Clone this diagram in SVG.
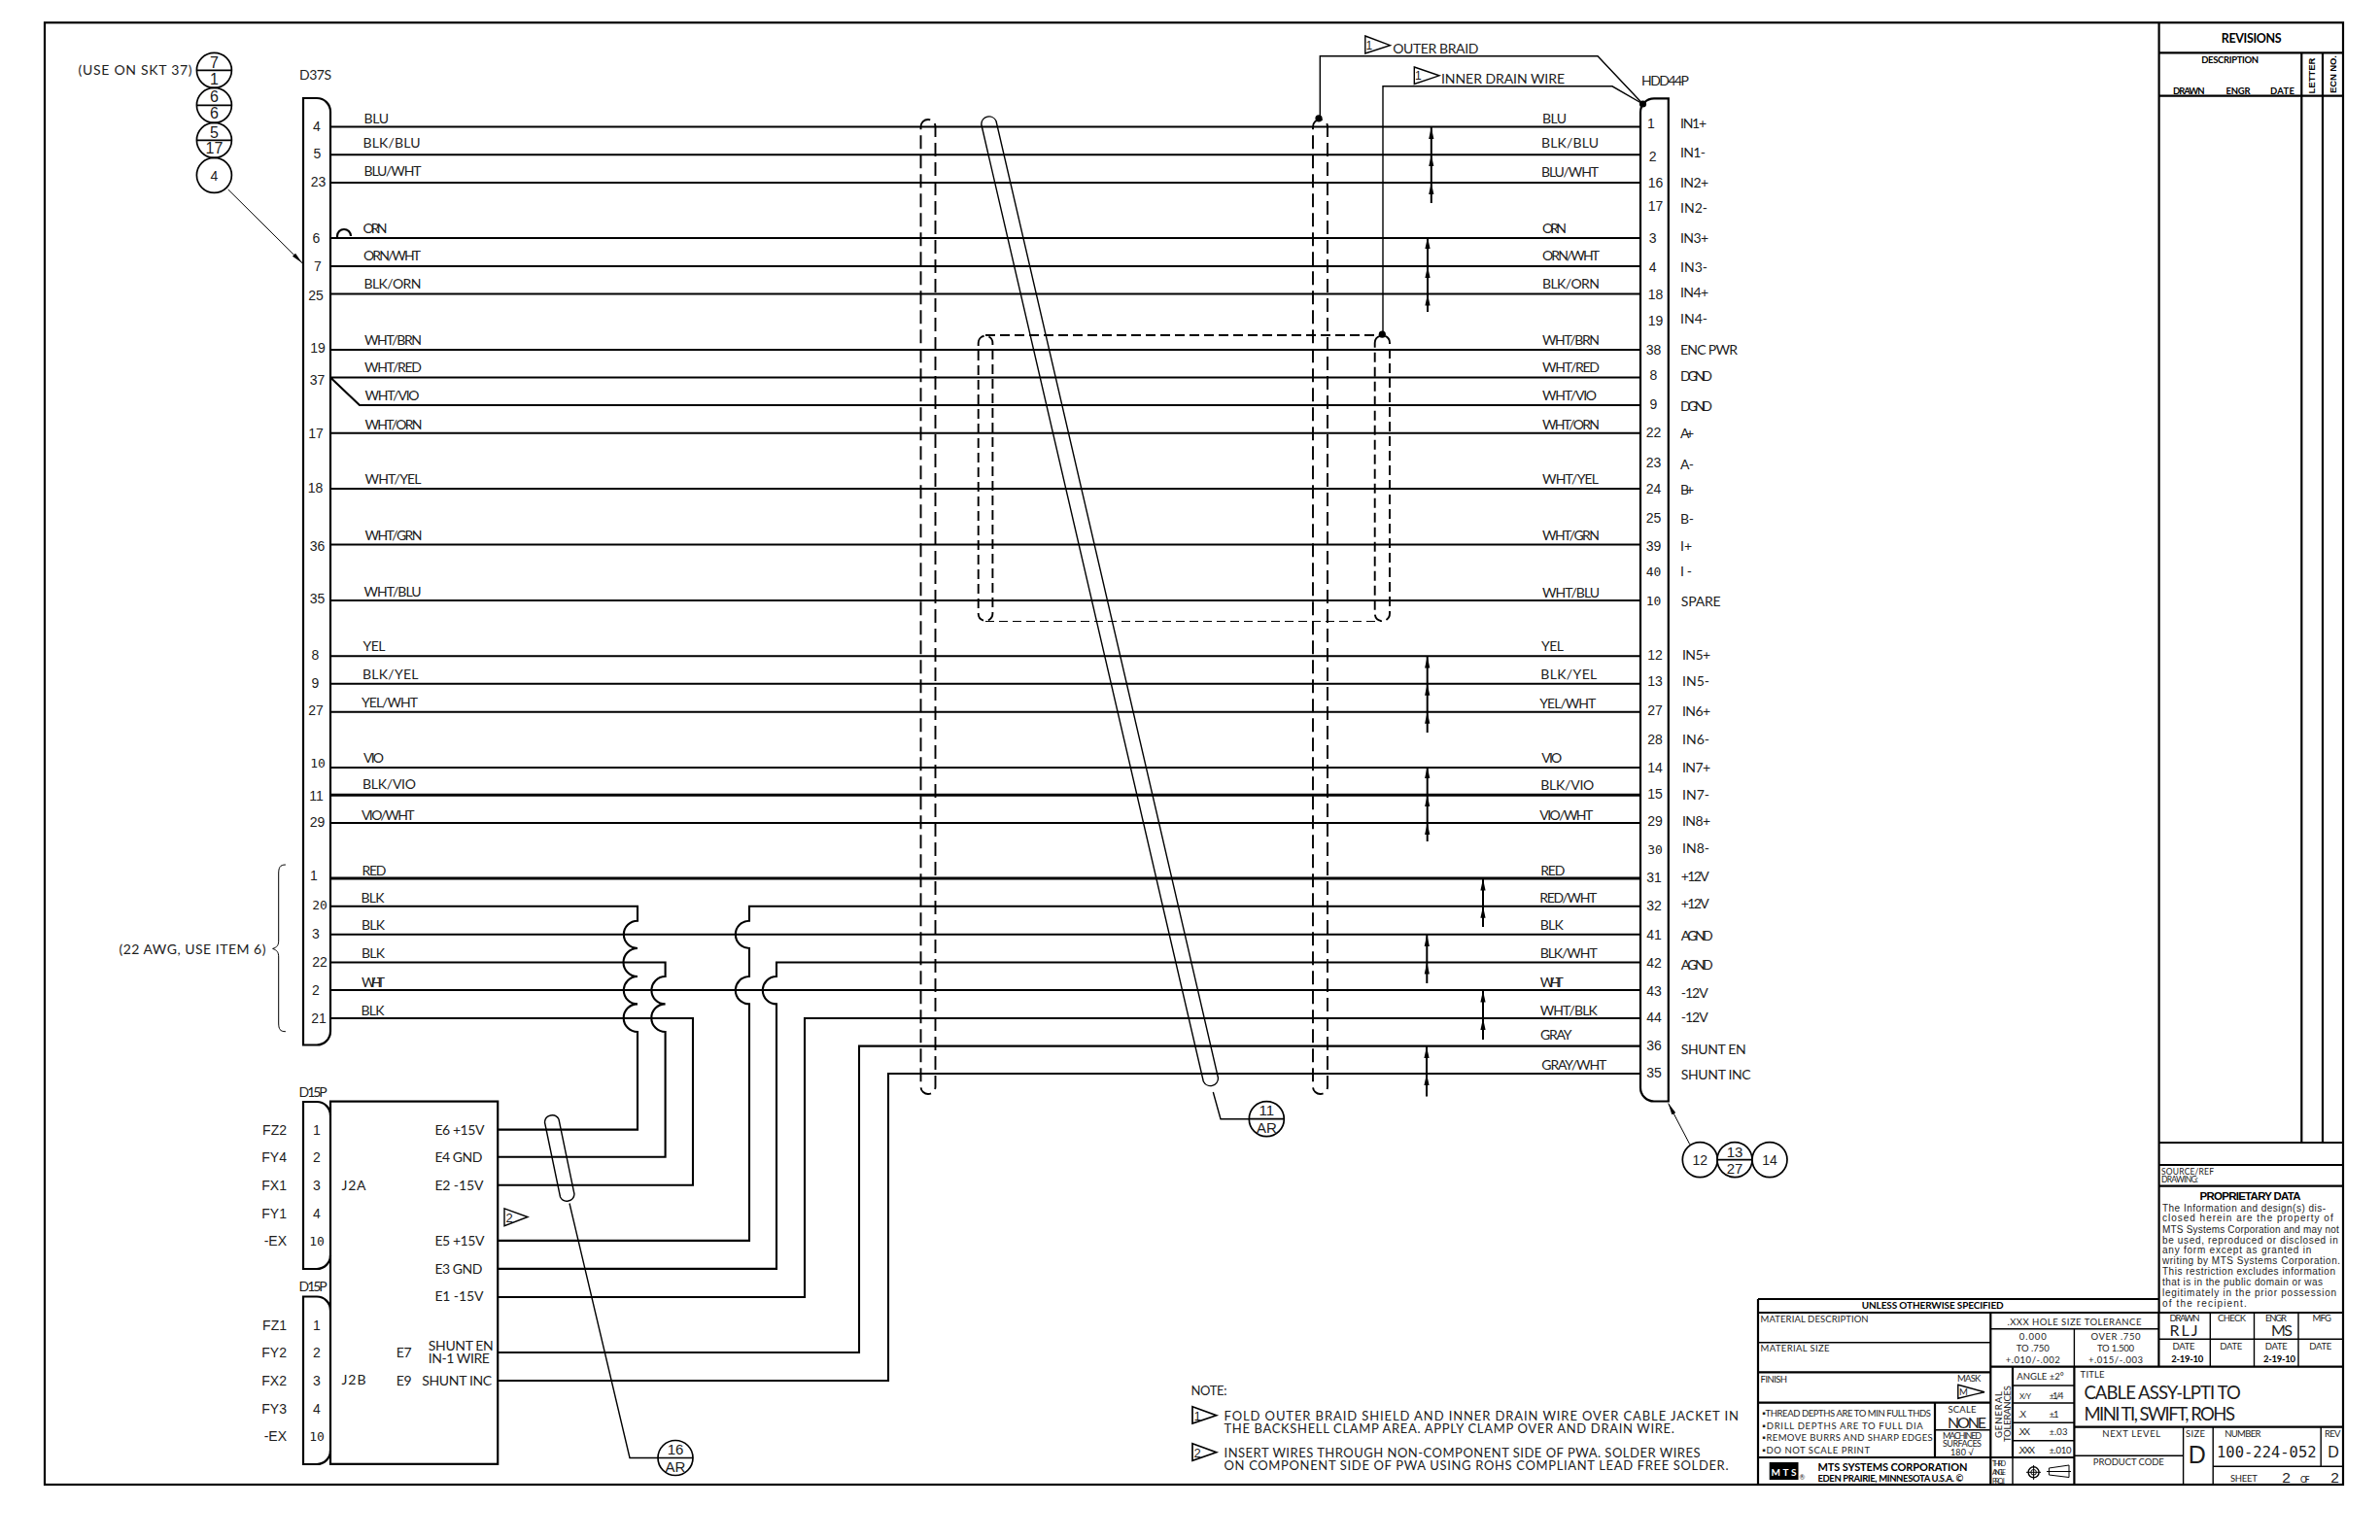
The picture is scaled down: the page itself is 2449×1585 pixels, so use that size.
<svg xmlns="http://www.w3.org/2000/svg" width="2449" height="1585" viewBox="0 0 2449 1585">
<style>
text{font-family:Lato,"Liberation Sans",Arial,sans-serif;fill:#1c1c1c;font-size:14px}
.r text,text.r,g.mid text{font-family:"Liberation Sans",Arial,sans-serif}
.m text,text.m,g.mid text.m{font-family:"DejaVu Sans Mono","Liberation Mono",monospace}
.mid text,text.mid{text-anchor:middle}
.b text,text.b{font-weight:bold;fill:#000}
.s9 text,text.s9{font-size:9.5px}
.s8 text,text.s8{font-size:8.5px}
.w{fill:none;stroke:#000;stroke-width:2.1}
.wt{fill:none;stroke:#000;stroke-width:3}
.k{fill:none;stroke:#000;stroke-width:2.2}
.n{fill:none;stroke:#000;stroke-width:1.4}
.h{fill:none;stroke:#000;stroke-width:1}
.d{fill:none;stroke:#000;stroke-width:1.9;stroke-dasharray:14 6}
.d2{fill:none;stroke:#000;stroke-width:1.9;stroke-dasharray:10 5}
.d3{fill:none;stroke:#000;stroke-width:1.2;stroke-dasharray:9 5}
.tw{fill:none;stroke:#000;stroke-width:2;marker-mid:url(#up);marker-end:url(#up)}
.c{fill:#fff;stroke:#000;stroke-width:1.7}
.f{fill:none;stroke:#000;stroke-width:1.7}
</style>
<defs>
<marker id="up" markerUnits="userSpaceOnUse" markerWidth="14" markerHeight="8" refX="12" refY="3" orient="auto"><path d="M0,0.4L12,3L0,5.6Z" fill="#000"/></marker>
<marker id="ar" markerUnits="userSpaceOnUse" markerWidth="14" markerHeight="8" refX="12" refY="3" orient="auto"><path d="M0,0.8L12,3L0,5.2Z" fill="#000"/></marker>
</defs>
<rect width="2449" height="1585" fill="#fff"/>

<g id="connectors">
<path class="w" d="M340,130.5H1688M340,159.3H1688M340,188H1688M340,245H1688M340,274H1688M340,302.5H1688M340,360H1688M340,388.5H1688M340,388.5L370,417H1688M340,445.7H1688M340,503H1688M340,560.5H1688M340,618H1688M340,675.3H1688M340,703.8H1688M340,732.7H1688M340,790H1688M340,847H1688M340,961.7H1688M340,1019H1688"/>
<path class="wt" d="M340,818.3H1688M340,904H1688"/>
<path class="w" d="M340,932.7H656V947.7A14.15,14.15 0 0 0 656,976A14.5,14.5 0 0 0 656,1005A14.2,14.2 0 0 0 656,1033.4A14.3,14.3 0 0 0 656,1062V1162.6H512"/>
<path class="w" d="M340,990.5H684.6V1005A14.2,14.2 0 0 0 684.6,1033.4A14.3,14.3 0 0 0 684.6,1062V1190.7H512"/>
<path class="w" d="M340,1048H713V1219.7H512"/>
<path class="w" d="M1688,932.7H771V947.7A14.15,14.15 0 0 0 771,976V1005A14.2,14.2 0 0 0 771,1033.4V1276.9H512"/>
<path class="w" d="M1688,990.5H799V1005A14.2,14.2 0 0 0 799,1033.4V1305.9H512"/>
<path class="w" d="M1688,1048H828V1335H512"/>
<path class="w" d="M1688,1076.6H884V1392H512"/>
<path class="w" d="M1688,1105H914V1421H512"/>
<path class="k" d="M347,245V243A7,7 0 0 1 361,243"/>
<path class="d" d="M947.5,130.5A7.5,7.5 0 0 1 962.5,130.5V1118.5A7.5,7.5 0 0 1 947.5,1118.5Z"/>
<path class="d" d="M1351,130.5A7.5,7.5 0 0 1 1366,130.5V1118.5A7.5,7.5 0 0 1 1351,1118.5Z"/>
<path class="d2" d="M1006.7,353A7.3,7.3 0 0 1 1021.4,353V631.5A7.3,7.3 0 0 1 1006.7,631.5Z"/>
<path class="d2" d="M1414.7,353A7.6,7.6 0 0 1 1430,353V631.5A7.6,7.6 0 0 1 1414.7,631.5Z"/>
<path class="d2" d="M1014,345H1422"/>
<path class="d3" d="M1014,639.5H1422"/>
<path class="n" d="M1009.8,128L1238.3,1113A8,8 0 0 0 1253.5,1109.5L1025,124.5A8,8 0 0 0 1009.8,128Z"/>
<path class="n" d="M1248.3,1124L1256,1151.7H1285.3"/>
<path class="n" d="M560.5,1155L576.5,1232A7.7,7.7 0 0 0 591,1229L575,1152A7.7,7.7 0 0 0 560.5,1155Z"/>
<path class="n" d="M586,1238.5L648,1500.5H677"/>
<path class="n" d="M1358.3,121V57.8H1644L1690.5,107"/>
<path class="n" d="M1423,344V88.8H1659L1690.5,107"/>
<circle cx="1357" cy="121.8" r="3.6"/>
<circle cx="1422.3" cy="344.2" r="3.6"/>
<circle cx="1690.5" cy="107" r="3.6"/>
<path class="tw" d="M1472.8,209V188V159.3V131"/>
<path class="tw" d="M1469,321V302.5V274V244"/>
<path class="tw" d="M1468.7,754V732.7V703.8V675.5"/>
<path class="tw" d="M1468.7,866V847V818.3V789"/>
<path class="tw" d="M1526,954V932.7V904.5"/>
<path class="tw" d="M1468.3,1012V990.5V962"/>
<path class="tw" d="M1526,1070V1048V1019.5"/>
<path class="tw" d="M1468,1128.4V1105V1077"/>
<path class="h" marker-end="url(#ar)" d="M234.7,195L311,270.7"/>
<path class="h" marker-end="url(#ar)" d="M1738.7,1177.6L1716.7,1135.6"/>
</g>

<g id="frame"><rect x="46" y="23.3" width="2365" height="1504.7" class="k"/></g>

<g id="d37s">
<path class="k" d="M312,101H326A14,14 0 0 1 340,115V1061.5A14,14 0 0 1 326,1075.5H312Z"/>
<text x="308" y="82" textLength="33">D37S</text>
<g class="mid">
<text x="326" y="135">4</text><text x="326.5" y="163">5</text><text x="327.5" y="192">23</text><text x="325.5" y="250">6</text><text x="327" y="279">7</text><text x="325" y="309">25</text><text x="327" y="363">19</text><text x="326.5" y="396">37</text><text x="325" y="451">17</text><text x="324.5" y="507">18</text><text x="326.5" y="567">36</text><text x="326.5" y="621">35</text><text x="324.5" y="679">8</text><text x="324.5" y="708">9</text><text x="325" y="736">27</text><text class="m" x="327" y="790" style="font-size:13px">10</text><text x="325.5" y="824">11</text><text x="326.5" y="851">29</text><text x="323" y="906">1</text><text class="m" x="329" y="936" style="font-size:13px">20</text><text x="325" y="966">3</text><text x="329" y="995">22</text><text x="325" y="1024">2</text><text x="328" y="1053">21</text>
</g>
<g>
<text x="374.5" y="127" textLength="25.5">BLU</text><text x="373.5" y="151.7" textLength="59">BLK/BLU</text><text x="374.5" y="181" textLength="59">BLU/WHT</text><text x="373.5" y="240.3" textLength="25">ORN</text><text x="374" y="268.3" textLength="59">ORN/WHT</text><text x="374.5" y="296.7" textLength="59">BLK/ORN</text><text x="375" y="355" textLength="59">WHT/BRN</text><text x="375" y="383.3" textLength="59">WHT/RED</text><text x="375.5" y="412.3" textLength="56">WHT/VIO</text><text x="375.5" y="442.3" textLength="59">WHT/ORN</text><text x="375.5" y="498.3" textLength="58">WHT/YEL</text><text x="375.5" y="556" textLength="59">WHT/GRN</text><text x="374.5" y="614.3" textLength="59">WHT/BLU</text><text x="373.5" y="669.7" textLength="23">YEL</text><text x="373" y="698.7" textLength="57.5">BLK/YEL</text><text x="372" y="728" textLength="58">YEL/WHT</text><text x="374" y="784.7" textLength="21">VIO</text><text x="373" y="812" textLength="55">BLK/VIO</text><text x="372" y="844" textLength="54.5">VIO/WHT</text><text x="372.5" y="901.3" textLength="25">RED</text><text x="371.5" y="929.3" textLength="24">BLK</text><text x="372" y="957.3" textLength="24">BLK</text><text x="372" y="986" textLength="24">BLK</text><text x="372" y="1015.7" textLength="24">WHT</text><text x="371.5" y="1045" textLength="24">BLK</text>
</g>
</g>

<g id="callout-left">
<circle class="f" cx="220.4" cy="72.3" r="18"/><path class="f" d="M202.4,72.3H238.4"/>
<circle class="f" cx="220.4" cy="108.3" r="18"/><path class="f" d="M202.4,108.3H238.4"/>
<circle class="f" cx="220.4" cy="144.3" r="18"/><path class="f" d="M202.4,144.3H238.4"/>
<circle class="f" cx="220.4" cy="180.3" r="18"/>
<g class="mid"><text x="220.4" y="69.5" style="font-size:16px">7</text><text x="220.4" y="87" style="font-size:16px">1</text><text x="220.4" y="105" style="font-size:16px">6</text><text x="220.4" y="122" style="font-size:16px">6</text><text x="220.4" y="141.5" style="font-size:16px">5</text><text x="220.4" y="158" style="font-size:16px">17</text><text x="220.4" y="185.5">4</text></g>
<text x="80.6" y="77" textLength="117">(USE ON SKT 37)</text>
</g>

<g id="brace-22awg">
<path class="h" d="M293.9,890C288,890 286.7,893 286.7,899V968C286.7,973 285,975 280.6,976.4C285,978 286.7,980 286.7,985V1053C286.7,1059 288,1061.7 293.9,1061.7"/>
<text x="122.4" y="981.5" textLength="151">(22 AWG, USE ITEM 6)</text>
</g>

<g id="d15p-a">
<path class="k" d="M340,1148A14,14 0 0 0 326,1134H312V1306H326A14,14 0 0 0 340,1292"/>
<text x="307.6" y="1129" textLength="29">D15P</text>
<g class="mid"><text x="326" y="1168">1</text><text x="326" y="1196">2</text><text x="326" y="1225">3</text><text x="326" y="1254">4</text><text class="m" x="326" y="1282" style="font-size:13px">10</text></g>
<g class="r" style="text-anchor:end"><text x="295" y="1168">FZ2</text><text x="295" y="1196">FY4</text><text x="295" y="1225">FX1</text><text x="295" y="1254">FY1</text><text x="295" y="1282">-EX</text></g>
</g>
<g id="d15p-b">
<path class="k" d="M340,1348.5A14,14 0 0 0 326,1334.5H312V1507H326A14,14 0 0 0 340,1493"/>
<text x="307.6" y="1329" textLength="29">D15P</text>
<g class="mid"><text x="326" y="1368.5">1</text><text x="326" y="1397">2</text><text x="326" y="1426">3</text><text x="326" y="1454.6">4</text><text class="m" x="326" y="1483" style="font-size:13px">10</text></g>
<g class="r" style="text-anchor:end"><text x="295" y="1368.5">FZ1</text><text x="295" y="1397">FY2</text><text x="295" y="1426">FX2</text><text x="295" y="1454.6">FY3</text><text x="295" y="1483">-EX</text></g>
</g>

<g id="pwa">
<rect class="k" x="340" y="1133.6" width="172.2" height="373.2"/>
<text x="351.5" y="1225" textLength="25">J2A</text><text x="351.5" y="1424.5" textLength="25">J2B</text>
<text x="447.4" y="1167.6" textLength="51">E6 +15V</text><text x="447.4" y="1196" textLength="49">E4 GND</text><text x="447.4" y="1224.5" textLength="50">E2 -15V</text><text x="447.4" y="1282" textLength="51">E5 +15V</text><text x="447.4" y="1310.5" textLength="49">E3 GND</text><text x="447.4" y="1339" textLength="50">E1 -15V</text>
<text x="440.8" y="1390.4" textLength="67">SHUNT EN</text><text x="440.8" y="1403" textLength="63">IN-1 WIRE</text>
<text x="407.7" y="1397" textLength="16">E7</text><text x="407.7" y="1426" textLength="16">E9</text><text x="434.2" y="1426" textLength="72">SHUNT INC</text>
<polygon class="n" points="519,1243.8 543,1252.5 519,1261.7"/>
<text class="r" x="520.5" y="1258" style="font-size:13px">2</text>
</g>

<g id="hdd44p">
<path class="k" d="M1716.8,101.4H1702A14,14 0 0 0 1688,115.4V1119.5A14,14 0 0 0 1702,1133.5H1716.8Z"/>
<text x="1689" y="88" textLength="49">HDD44P</text>
<g class="mid">
<text x="1699" y="132">1</text><text x="1700.7" y="166">2</text><text x="1703.6" y="193">16</text><text x="1703.6" y="217">17</text><text x="1700.7" y="250">3</text><text x="1700.7" y="280">4</text><text x="1703.6" y="308">18</text><text x="1703.6" y="334.5">19</text><text x="1701.5" y="365">38</text><text x="1701.5" y="391">8</text><text x="1701.5" y="421">9</text><text x="1701.5" y="450">22</text><text x="1701.5" y="481">23</text><text x="1701.5" y="507.5">24</text><text x="1701.5" y="538">25</text><text x="1701.5" y="567">39</text><text class="m" x="1701.5" y="593" style="font-size:13px">40</text><text class="m" x="1701.5" y="623" style="font-size:13px">10</text><text x="1703" y="679">12</text><text x="1703" y="706">13</text><text x="1703" y="736">27</text><text x="1703" y="766">28</text><text x="1703" y="795">14</text><text x="1703" y="822">15</text><text x="1703" y="850">29</text><text class="m" x="1703" y="879" style="font-size:13px">30</text><text x="1702" y="908">31</text><text x="1702" y="937">32</text><text x="1702" y="967">41</text><text x="1702" y="996">42</text><text x="1702" y="1025">43</text><text x="1702" y="1052">44</text><text x="1702" y="1081">36</text><text x="1702" y="1109">35</text>
</g>
<g>
<text x="1729" y="132.4" textLength="27">IN1+</text><text x="1729" y="162" textLength="26">IN1-</text><text x="1729" y="193" textLength="29">IN2+</text><text x="1729" y="219" textLength="28">IN2-</text><text x="1729" y="250" textLength="29">IN3+</text><text x="1729" y="280" textLength="28">IN3-</text><text x="1729" y="306" textLength="29">IN4+</text><text x="1729" y="333" textLength="28">IN4-</text><text x="1729" y="365" textLength="59">ENC PWR</text><text x="1729" y="392.3" textLength="33">DGND</text><text x="1729" y="422.5" textLength="33">DGND</text><text x="1729" y="450.5" textLength="14">A+</text><text x="1729" y="483.4" textLength="14">A-</text><text x="1729" y="509" textLength="14">B+</text><text x="1729" y="538.5" textLength="14">B-</text><text x="1729" y="566.8" textLength="12">I+</text><text x="1729" y="592.8" textLength="12">I-</text><text x="1729.7" y="624" textLength="41">SPARE</text>
<text x="1731" y="679" textLength="29">IN5+</text><text x="1731" y="706" textLength="28">IN5-</text><text x="1731" y="736.5" textLength="29">IN6+</text><text x="1731" y="766.4" textLength="28">IN6-</text><text x="1731" y="795" textLength="29">IN7+</text><text x="1731" y="823" textLength="28">IN7-</text><text x="1731" y="850" textLength="29">IN8+</text><text x="1731" y="878.4" textLength="28">IN8-</text><text x="1729.7" y="906.5" textLength="29">+12V</text><text x="1729.7" y="935" textLength="29">+12V</text><text x="1729.7" y="967.6" textLength="33">AGND</text><text x="1729.7" y="998.3" textLength="33">AGND</text><text x="1729.7" y="1027" textLength="28">-12V</text><text x="1729.7" y="1052" textLength="28">-12V</text><text x="1729.7" y="1085.4" textLength="67">SHUNT EN</text><text x="1729.7" y="1111" textLength="72">SHUNT INC</text>
</g>
<g>
<text x="1587" y="127.4" textLength="25">BLU</text><text x="1586" y="151.5" textLength="59">BLK/BLU</text><text x="1586" y="181.8" textLength="59">BLU/WHT</text><text x="1587" y="240.3" textLength="25">ORN</text><text x="1587" y="267.9" textLength="59">ORN/WHT</text><text x="1587" y="296.6" textLength="59">BLK/ORN</text><text x="1587" y="354.8" textLength="59">WHT/BRN</text><text x="1587" y="383" textLength="59">WHT/RED</text><text x="1587" y="412" textLength="56">WHT/VIO</text><text x="1587" y="442.4" textLength="59">WHT/ORN</text><text x="1587" y="498" textLength="58">WHT/YEL</text><text x="1587" y="555.7" textLength="59">WHT/GRN</text><text x="1587" y="614.5" textLength="59">WHT/BLU</text><text x="1586" y="669.6" textLength="23">YEL</text><text x="1585.3" y="699" textLength="58">BLK/YEL</text><text x="1584.3" y="728.6" textLength="58">YEL/WHT</text><text x="1586.3" y="785" textLength="21">VIO</text><text x="1585.3" y="812.7" textLength="55">BLK/VIO</text><text x="1584.3" y="843.5" textLength="55">VIO/WHT</text><text x="1585.3" y="901" textLength="25">RED</text><text x="1584.3" y="929.3" textLength="59">RED/WHT</text><text x="1584.7" y="957" textLength="24">BLK</text><text x="1584.7" y="985.7" textLength="59">BLK/WHT</text><text x="1584.7" y="1015.6" textLength="24">WHT</text><text x="1584.7" y="1044.6" textLength="59">WHT/BLK</text><text x="1585" y="1070.3" textLength="32.5">GRAY</text><text x="1586.3" y="1101" textLength="67">GRAY/WHT</text>
</g>
</g>

<g id="flag-outer-braid">
<polygon class="n" points="1404.8,37 1430.4,46.7 1404.8,55"/>
<text class="r" x="1405.5" y="51" style="font-size:12px">1</text>
<text x="1433.3" y="55" textLength="88">OUTER BRAID</text>
</g>
<g id="flag-inner-drain">
<polygon class="n" points="1455.3,69 1481,77.8 1455.3,86.5"/>
<text class="r" x="1456" y="82" style="font-size:12px">1</text>
<text x="1483" y="86" textLength="127">INNER DRAIN WIRE</text>
</g>

<g id="callout-11"><circle class="c" cx="1303.3" cy="1151.7" r="18"/><path class="f" d="M1285.3,1151.7H1321.3"/><text class="mid r" x="1303.3" y="1148" style="font-size:15px">11</text><text class="mid r" x="1303.3" y="1166" style="font-size:15px">AR</text></g>
<g id="callout-16"><circle class="c" cx="695" cy="1500.5" r="18"/><path class="f" d="M677,1500.5H713"/><text class="mid r" x="695" y="1497" style="font-size:15px">16</text><text class="mid r" x="695" y="1515" style="font-size:15px">AR</text></g>
<g id="callout-right">
<circle class="c" cx="1749.3" cy="1193.6" r="18"/><circle class="c" cx="1785" cy="1193.6" r="18"/><circle class="c" cx="1821" cy="1193.6" r="18"/><path class="f" d="M1767,1193.6H1803"/>
<g class="mid"><text x="1749.3" y="1199">12</text><text x="1785" y="1191" style="font-size:15px">13</text><text x="1785" y="1208" style="font-size:15px">27</text><text x="1821" y="1199">14</text></g>
</g>

<g id="notes">
<text x="1225.5" y="1436" textLength="37" style="font-size:13px">NOTE:</text>
<polygon class="f" points="1227,1447.7 1251.6,1456.7 1227,1465"/><text class="r" x="1228.5" y="1461.5" style="font-size:13px">1</text>
<polygon class="f" points="1227,1485.7 1251.6,1494.7 1227,1503.3"/><text class="r" x="1228.5" y="1499.5" style="font-size:13px">2</text>
<text x="1259.5" y="1461.5" textLength="529.5" style="font-size:13px">FOLD OUTER BRAID SHIELD AND INNER DRAIN WIRE OVER CABLE JACKET IN</text>
<text x="1259.5" y="1474.5" textLength="463.3" style="font-size:13px">THE BACKSHELL CLAMP AREA. APPLY CLAMP OVER AND DRAIN WIRE.</text>
<text x="1259.5" y="1500" textLength="490" style="font-size:13px">INSERT WIRES THROUGH NON-COMPONENT SIDE OF PWA. SOLDER WIRES</text>
<text x="1259.5" y="1513" textLength="519" style="font-size:13px">ON COMPONENT SIDE OF PWA USING ROHS COMPLIANT LEAD FREE SOLDER.</text>
</g>

<g id="revisions">
<path class="k" d="M2221.6,23.3V1351M2221.6,54.3H2411M2221.6,98.7H2411M2221.6,1176H2411M2221.6,1199H2411M2221.6,1220.7H2411M2368.3,54.3V1176M2390,54.3V1176"/>
<text class="mid b" x="2316.7" y="44" textLength="62" style="font-size:12.5px">REVISIONS</text>
<text class="mid b" x="2294.7" y="65" textLength="59" style="font-size:9.5px">DESCRIPTION</text>
<g class="b s9"><text x="2236" y="97" textLength="32.5">DRAWN</text><text x="2290.5" y="97" textLength="25">ENGR</text><text x="2336" y="97" textLength="25">DATE</text></g>
<text class="mid b s9 r" transform="translate(2382,78) rotate(-90)" textLength="37">LETTER</text>
<text class="mid b s9 r" transform="translate(2404.3,76.5) rotate(-90)" textLength="39">ECN NO.</text>
</g>

<g id="proprietary">
<g class="s8"><text x="2224" y="1208.5" textLength="54">SOURCE/REF</text><text x="2224" y="1217" textLength="38">DRAWING:</text></g>
<text class="mid b r" x="2315.5" y="1234.5" textLength="104" style="font-size:11.5px">PROPRIETARY DATA</text>
<g class="r">
<text x="2225" y="1246.5" textLength="168" style="font-size:10px">The Information and design(s) dis-</text>
<text x="2225" y="1257" textLength="175.7" style="font-size:10px">closed herein are the property of</text>
<text x="2225" y="1268.5" textLength="181.7" style="font-size:10px">MTS Systems Corporation and may not</text>
<text x="2225" y="1279.5" textLength="180.7" style="font-size:10px">be used, reproduced or disclosed in</text>
<text x="2225" y="1290.2" textLength="153.3" style="font-size:10px">any form except as granted in</text>
<text x="2225" y="1301.2" textLength="183" style="font-size:10px">writing by MTS Systems Corporation.</text>
<text x="2225" y="1312.2" textLength="178" style="font-size:10px">This restriction excludes information</text>
<text x="2225" y="1322.8" textLength="165" style="font-size:10px">that is in the public domain or was</text>
<text x="2225" y="1333.5" textLength="179" style="font-size:10px">legitimately in the prior possession</text>
<text x="2225" y="1344.5" textLength="86.7" style="font-size:10px">of the recipient.</text>
</g>
</g>

<g id="title-block">
<path class="k" d="M1809,1337H2221.6M1809,1337V1528M1809,1351H2411M2048.3,1351V1528M2221.4,1351V1406.7M2048.3,1406.7H2411M1809,1412.3H2048.3M1809,1443.7H2048.3M1809,1500H2134.4M1991,1443.7V1500M2134.4,1406.7V1528M2134.4,1468.7H2411M2071,1406.7V1500"/>
<path class="n" d="M1809,1381.7H2048.3M1991,1471.7H2048.3M2048.3,1367.7H2221.4M2134.4,1367.7V1406.7M2221.4,1378.3H2411M2274.3,1351V1406.7M2319.5,1351V1406.7M2365,1351V1406.7M2071,1426H2134.4M2071,1444H2134.4M2071,1464.3H2134.4M2071,1482.7H2134.4M2134.4,1498.3H2246.6M2246.6,1468.7V1528M2277.2,1468.7V1528M2388.2,1468.7V1509.3M2277.2,1509.3H2411M2071,1500V1528"/>
<text class="mid s9 b" x="1988.7" y="1347" textLength="146" style="font-size:10px">UNLESS OTHERWISE SPECIFIED</text>
<g class="s9">
<text x="1811.6" y="1361" textLength="111">MATERIAL DESCRIPTION</text>
<text x="1811.6" y="1391.3" textLength="71">MATERIAL SIZE</text>
<text x="1811.6" y="1422.6" textLength="27.5">FINISH</text>
<text x="2014" y="1422.3" textLength="24.4">MASK</text>
<text x="2016" y="1436.3" textLength="8">M</text>
<text x="1813.2" y="1457.6" textLength="173.8">▪THREAD DEPTHS ARE TO MIN FULL THDS</text>
<text x="1813.2" y="1470.6" textLength="165.6">▪DRILL DEPTHS ARE TO FULL DIA</text>
<text x="1813.2" y="1483.3" textLength="175.5">▪REMOVE BURRS AND SHARP EDGES</text>
<text x="1813.2" y="1496.3" textLength="110.8">▪DO NOT SCALE PRINT</text>
<text class="mid" x="2019" y="1454" textLength="29">SCALE</text>
<text class="mid" x="2019" y="1481.4" textLength="40" style="font-size:9px">MACHINED</text>
<text class="mid" x="2019" y="1489" textLength="40" style="font-size:9px">SURFACES</text>
<text class="mid" x="2019" y="1498" textLength="24" style="font-size:9px">180 √</text>
<text class="mid" x="2134.4" y="1363.6" textLength="138">.XXX HOLE SIZE TOLERANCE</text>
<text class="mid" x="2091.8" y="1378.6" textLength="28">0.000</text><text class="mid" x="2091.8" y="1391" textLength="34">TO .750</text><text class="mid" x="2091.8" y="1403" textLength="56">+.010/-.002</text>
<text class="mid" x="2177" y="1378.6" textLength="51">OVER .750</text><text class="mid" x="2177" y="1391" textLength="38">TO 1.500</text><text class="mid" x="2177" y="1403" textLength="56">+.015/-.003</text>
<text x="2232.5" y="1360.3" textLength="31">DRAWN</text><text x="2282" y="1360.3" textLength="29">CHECK</text><text x="2331" y="1360.3" textLength="22">ENGR</text><text x="2379.5" y="1360.3" textLength="19.5">MFG</text>
<text class="mid" x="2247" y="1388.6" textLength="23">DATE</text><text class="mid" x="2295.8" y="1388.6" textLength="23">DATE</text><text class="mid" x="2342.2" y="1388.6" textLength="23">DATE</text><text class="mid" x="2387.8" y="1388.6" textLength="23">DATE</text>
<text class="mid b" x="2250.8" y="1402.3" textLength="33">2-19-10</text><text class="mid b" x="2345.5" y="1402.3" textLength="33">2-19-10</text>
<text x="2075.3" y="1420.3" textLength="48.4">ANGLE ±2°</text>
<text x="2078" y="1439.6" textLength="12" style="font-size:8px">X/Y</text><text x="2108.4" y="1439.6" textLength="15">±1/4</text>
<text x="2077" y="1458.6" textLength="8">.X</text><text x="2108.4" y="1458.6" textLength="10">±.1</text>
<text x="2077" y="1477.3" textLength="12">.XX</text><text x="2108.4" y="1477.3" textLength="19">±.03</text>
<text x="2077" y="1495.6" textLength="17">.XXX</text><text x="2108.4" y="1495.6" textLength="23">±.010</text>
<text x="2050" y="1509" textLength="14" style="font-size:7px">THIRD</text><text x="2050" y="1517.6" textLength="14" style="font-size:7px">ANGLE</text><text x="2050" y="1527" textLength="13" style="font-size:7px">PROJ.</text>
<text x="2140.6" y="1417.6" textLength="25">TITLE</text>
<text class="mid" x="2193.2" y="1479" textLength="60">NEXT LEVEL</text>
<text class="mid" x="2190.3" y="1507.6" textLength="73">PRODUCT CODE</text>
<text x="2249" y="1479" textLength="20">SIZE</text>
<text x="2289.2" y="1479" textLength="37.3">NUMBER</text>
<text x="2392" y="1479" textLength="16.4">REV</text>
<text x="2295" y="1525" textLength="27.8">SHEET</text>
<text x="2367" y="1525.6" textLength="9.6" style="font-size:8.5px">OF</text>
</g>
<text class="s9" transform="translate(2059.5,1456) rotate(-90)" text-anchor="middle" textLength="48">GENERAL</text>
<text class="s9" transform="translate(2069,1455) rotate(-90)" text-anchor="middle" textLength="58">TOLERANCES</text>
<polygon class="n" points="2014.8,1425.3 2042,1432.7 2014.8,1439.3"/>
<text class="mid" x="2024" y="1469.5" textLength="40" style="font-size:16px">NONE</text>
<text x="2232.5" y="1375" textLength="29" style="font-size:16px">RLJ</text>
<text x="2337" y="1375" textLength="22" style="font-size:16px">MS</text>
<text x="2144.4" y="1439.5" textLength="161.4" style="font-size:18.5px">CABLE ASSY-LPTI TO</text>
<text x="2144.4" y="1461.5" textLength="155.6" style="font-size:18.5px">MINI TI, SWIFT, ROHS</text>
<text class="mid r" x="2260.7" y="1505.5" style="font-size:25px">D</text>
<text class="m" x="2281" y="1500" textLength="102.6" style="font-size:15.5px">100-224-052</text>
<text class="mid r" x="2401" y="1500" style="font-size:16px">D</text>
<text class="mid r" x="2352.5" y="1525.5" style="font-size:15.5px">2</text>
<text class="mid r" x="2402.6" y="1525.5" style="font-size:15.5px">2</text>
<rect x="1820.7" y="1505" width="29.8" height="18" fill="#000"/>
<text class="b" x="1822.5" y="1518.5" textLength="26" style="font-size:10px;fill:#fff">MTS</text>
<text x="1851.5" y="1523" style="font-size:7px">®</text>
<text class="b" x="1870.4" y="1513.7" textLength="154" style="font-size:11px">MTS SYSTEMS CORPORATION</text>
<text class="b" x="1870.4" y="1524.5" textLength="150" style="font-size:9.5px">EDEN PRAIRIE, MINNESOTA U.S.A. ©</text>
<circle class="n" cx="2092.6" cy="1515.3" r="5.5"/><circle class="h" cx="2092.6" cy="1515.3" r="2.8"/><path class="h" d="M2085,1515.3H2100M2092.6,1508V1523"/>
<path class="h" d="M2108.4,1511L2129,1508V1520.5L2108.4,1518ZM2106,1514.5H2131"/>
</g>
</svg>
